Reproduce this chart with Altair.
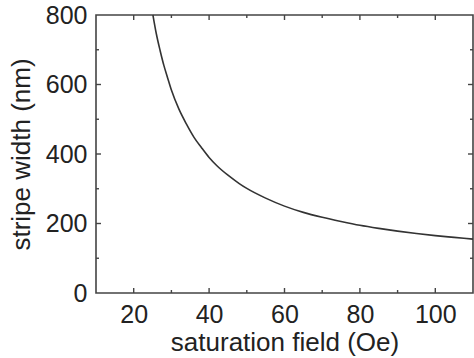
import altair as alt
import pandas as pd

# Data
field_oe = [25.1, 26, 27, 28, 29, 30, 32, 34, 36, 38, 40, 42, 45, 48, 50, 55,
            60, 65, 70, 75, 80, 85, 90, 95, 100, 105, 110]
width_nm = [800, 746, 698, 655, 619, 584, 529, 486, 448, 418, 390, 367, 339,
            315, 301, 273, 250, 232, 218, 206, 195, 186, 178, 171, 165, 160, 155]

x_major = [20, 40, 60, 80, 100]
x_minor = [30, 50, 70, 90]
y_major = [0, 200, 400, 600, 800]
y_minor = [100, 300, 500, 700]

W, H = 377, 278
FONT = "Liberation Sans"
INK = "#222222"
FRAME = "#444444"

xs = alt.Scale(domain=[10, 110], nice=False, zero=False)
ys = alt.Scale(domain=[0, 800], nice=False)

curve_df = pd.DataFrame({"field": field_oe, "width": width_nm})

line = alt.Chart(curve_df).mark_line(color="#333333", strokeWidth=1.6, interpolate="monotone").encode(
    x=alt.X("field:Q", scale=xs,
            axis=alt.Axis(title="saturation field (Oe)", values=x_major, grid=False,
                          ticks=False, domain=False, labelPadding=9, titlePadding=2)),
    y=alt.Y("width:Q", scale=ys,
            axis=alt.Axis(title="stripe width (nm)", values=y_major, grid=False,
                          ticks=False, domain=False, labelPadding=9, titlePadding=11)),
)


def xticks(vals, length):
    df = pd.DataFrame({"v": vals})
    bot = alt.Chart(df).mark_rule(color=FRAME, strokeWidth=1.4).encode(
        x=alt.X("v:Q", scale=xs), y=alt.value(H), y2=alt.value(H - length))
    top = alt.Chart(df).mark_rule(color=FRAME, strokeWidth=1.4).encode(
        x=alt.X("v:Q", scale=xs), y=alt.value(0), y2=alt.value(length))
    return [bot, top]


def yticks(vals, length):
    df = pd.DataFrame({"v": vals})
    left = alt.Chart(df).mark_rule(color=FRAME, strokeWidth=1.4).encode(
        y=alt.Y("v:Q", scale=ys), x=alt.value(0), x2=alt.value(length))
    right = alt.Chart(df).mark_rule(color=FRAME, strokeWidth=1.4).encode(
        y=alt.Y("v:Q", scale=ys), x=alt.value(W), x2=alt.value(W - length))
    return [left, right]


layers = [line] + xticks(x_major, 5) + xticks(x_minor, 3) + yticks(y_major[1:-1], 5) + yticks(y_minor, 3)

chart = alt.layer(*layers).properties(
    width=W, height=H,
    background="white",
    autosize=alt.AutoSizeParams(type="none"),
    padding={"left": 96, "top": 15, "right": 1, "bottom": 65},
).configure_view(
    stroke=FRAME, strokeWidth=1.6
).configure_axis(
    labelFont=FONT, titleFont=FONT, labelFontSize=25, titleFontSize=26,
    labelColor=INK, titleColor=INK, titleFontWeight="normal",
)

chart.save("out.html", embed_options={"renderer": "svg", "actions": False})
